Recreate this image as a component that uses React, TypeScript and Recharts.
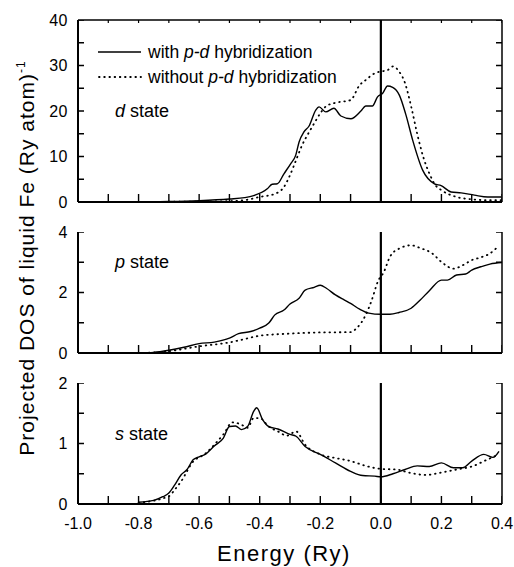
import React from 'react';
import { LineChart, Line, XAxis, YAxis, ReferenceLine } from 'recharts';

const FONT = '"Liberation Sans", Arial, Helvetica, sans-serif';

// ---- ticks ----
const energyTicks = [-1.0, -0.9, -0.8, -0.7, -0.6, -0.5, -0.4, -0.3, -0.2, -0.1, 0.0, 0.1, 0.2, 0.3, 0.4];
const energyLabels = [-1.0, -0.8, -0.6, -0.4, -0.2, 0.0, 0.2, 0.4];
const dTicks = [0, 5, 10, 15, 20, 25, 30, 35, 40];
const dLabels = [0, 10, 20, 30, 40];
const pTicks = [0, 1, 2, 3, 4];
const pLabels = [0, 2, 4];
const sTicks = [0, 0.5, 1, 1.5, 2];
const sLabels = [0, 1, 2];

// ---- d state ----
const dWithE = [-0.8, -0.7, -0.6, -0.5, -0.45, -0.42, -0.375, -0.359, -0.342, -0.32, -0.298, -0.281, -0.27, -0.254, -0.237, -0.215, -0.204, -0.182, -0.155, -0.132, -0.099, -0.066, -0.05, -0.028, -0.011, 0.006, 0.022, 0.039, 0.061, 0.083, 0.105, 0.138, 0.177, 0.199, 0.232, 0.265, 0.309, 0.353, 0.397];
const dWithV = [0, 0.1, 0.3, 0.66, 0.95, 1.4, 2.9, 3.9, 4.0, 6.2, 8.4, 10.3, 13.2, 15.4, 16.7, 20.2, 20.9, 19.8, 20.6, 18.9, 18.3, 20.0, 21.1, 21.1, 23.1, 23.9, 25.5, 25.2, 23.5, 19.1, 13.6, 7.0, 4.0, 3.6, 2.2, 2.0, 1.5, 1.1, 1.1];
const dWithoutE = [-0.7, -0.6, -0.5, -0.45, -0.4, -0.35, -0.32, -0.3, -0.28, -0.26, -0.24, -0.22, -0.2, -0.18, -0.15, -0.1, -0.07, -0.05, -0.02, 0.0, 0.02, 0.04, 0.06, 0.08, 0.1, 0.12, 0.14, 0.16, 0.18, 0.2, 0.25, 0.3, 0.35, 0.4];
const dWithoutV = [0.05, 0.1, 0.2, 0.4, 1.1, 1.8, 3.3, 5.9, 9.2, 12.5, 15, 17.3, 19.5, 21.1, 21.8, 22.4, 25.7, 26.8, 28.3, 28.7, 28.9, 29.8, 28.7, 26.1, 21, 15, 9.9, 6.3, 3.7, 2.6, 1.1, 0.6, 0.4, 0.4];

// ---- p state ----
const pWithE = [-0.8, -0.75, -0.7, -0.65, -0.6, -0.55, -0.5, -0.47, -0.43, -0.4, -0.37, -0.35, -0.32, -0.3, -0.27, -0.25, -0.22, -0.2, -0.18, -0.15, -0.12, -0.1, -0.07, -0.04, 0.0, 0.03, 0.06, 0.1, 0.13, 0.16, 0.2, 0.22, 0.25, 0.28, 0.3, 0.33, 0.36, 0.4];
const pWithV = [0, 0.02, 0.09, 0.19, 0.31, 0.36, 0.49, 0.64, 0.71, 0.82, 0.99, 1.26, 1.42, 1.62, 1.81, 2.08, 2.17, 2.24, 2.14, 1.92, 1.75, 1.64, 1.45, 1.32, 1.28, 1.28, 1.34, 1.48, 1.75, 2.06, 2.41, 2.41, 2.58, 2.61, 2.74, 2.85, 2.94, 2.99];
const pWithoutE = [-0.8, -0.7, -0.6, -0.5, -0.45, -0.4, -0.3, -0.2, -0.1, -0.08, -0.05, -0.03, -0.01, 0.01, 0.03, 0.06, 0.1, 0.13, 0.17, 0.2, 0.24, 0.27, 0.3, 0.33, 0.36, 0.39];
const pWithoutV = [0, 0.06, 0.22, 0.35, 0.46, 0.57, 0.64, 0.68, 0.69, 0.82, 1.26, 1.75, 2.36, 2.68, 3.18, 3.45, 3.56, 3.47, 3.29, 3.01, 2.79, 2.9, 3.07, 3.16, 3.29, 3.55];

// ---- s state ----
const sWithE = [-0.8, -0.75, -0.72, -0.7, -0.68, -0.66, -0.64, -0.62, -0.6, -0.58, -0.55, -0.52, -0.5, -0.48, -0.46, -0.44, -0.42, -0.41, -0.39, -0.37, -0.34, -0.3, -0.28, -0.25, -0.2, -0.15, -0.1, -0.06, -0.02, 0.0, 0.04, 0.08, 0.12, 0.16, 0.2, 0.24, 0.27, 0.3, 0.34, 0.37, 0.39];
const sWithV = [0.03, 0.06, 0.12, 0.18, 0.32, 0.48, 0.57, 0.73, 0.78, 0.82, 0.96, 1.09, 1.28, 1.29, 1.23, 1.28, 1.53, 1.59, 1.39, 1.28, 1.24, 1.15, 1.12, 0.95, 0.82, 0.68, 0.54, 0.47, 0.46, 0.45, 0.5, 0.57, 0.63, 0.62, 0.68, 0.6, 0.6, 0.71, 0.82, 0.77, 0.87];
const sWithoutE = [-0.8, -0.7, -0.68, -0.66, -0.62, -0.58, -0.55, -0.52, -0.49, -0.46, -0.44, -0.42, -0.4, -0.37, -0.34, -0.31, -0.28, -0.25, -0.2, -0.15, -0.1, -0.05, 0.0, 0.05, 0.1, 0.15, 0.2, 0.25, 0.3, 0.35, 0.39];
const sWithoutV = [0.02, 0.13, 0.24, 0.37, 0.7, 0.83, 0.98, 1.15, 1.35, 1.31, 1.26, 1.42, 1.42, 1.28, 1.2, 1.13, 1.2, 0.98, 0.82, 0.76, 0.71, 0.63, 0.58, 0.57, 0.51, 0.48, 0.52, 0.57, 0.62, 0.73, 0.82];

type Pt = { e: number; v: number | null };

const zip = (e: number[], v: number[]): Pt[] => {
  const n = Math.min(e.length, v.length);
  const out: Pt[] = [];
  for (let i = 0; i < n; i++) out.push({ e: e[i], v: v[i] });
  return out;
};

const isIn = (arr: number[], v: number) => arr.some((a) => Math.abs(a - v) < 1e-6);

const DOT_DASH = '0.6 4.6';
const X_MIN = -1;
const X_MAX = 0.4;
const CHART_W = 514;
const M_LEFT = 18;
const M_RIGHT = 12;
const Y_AXIS_W = 60;
const PLOT_W = CHART_W - M_LEFT - M_RIGHT - Y_AXIS_W;

const makeBottomLabel = (showLabels: boolean) => (props: any) => {
  const { x, y, payload } = props;
  const v = payload.value as number;
  if (!showLabels || !isIn(energyLabels, v)) return <g />;
  return (
    <text x={x} y={y} dy="0.71em" textAnchor="middle" fontSize={16} fontFamily={FONT} fill="#000">
      {v.toFixed(1)}
    </text>
  );
};

const makeLeftLabel = (labels: number[]) => (props: any) => {
  const { x, y, payload } = props;
  const v = payload.value as number;
  if (!isIn(labels, v)) return <g />;
  return (
    <text x={x} y={y} dy="0.355em" textAnchor="end" fontSize={16} fontFamily={FONT} fill="#000" letterSpacing={0.5}>
      {String(v)}
    </text>
  );
};

const EmptyTick = () => <g />;

type PanelProps = {
  top: number;
  height: number;
  marginTop: number;
  marginBottom: number;
  xAxisHeight: number;
  showXLabels: boolean;
  boxTop: boolean;
  yDomain: [number, number];
  yTicks: number[];
  yLabels: number[];
  withData: Pt[];
  withoutData: Pt[];
};

const TickLine = (data: Pt[], width: number, key: string) => (
  <Line
    key={key}
    data={data}
    dataKey="v"
    type="linear"
    stroke="#000"
    strokeWidth={width}
    dot={false}
    activeDot={false}
    connectNulls={false}
    legendType="none"
    isAnimationActive={false}
  />
);

const Panel = (p: PanelProps) => {
  const [y0, y1] = p.yDomain;
  const plotH = p.height - p.marginTop - p.marginBottom - p.xAxisHeight;
  // tick lengths converted from pixels to axis units
  const bottomLen = (8 / plotH) * (y1 - y0);
  const topLen = (3 / plotH) * (y1 - y0);
  const sideLen = (6 / PLOT_W) * (X_MAX - X_MIN);

  const bottomTicks: Pt[] = energyTicks.flatMap((t) => [
    { e: t, v: y0 },
    { e: t, v: y0 + bottomLen },
    { e: t, v: null },
  ]);
  const topTicks: Pt[] = energyTicks.flatMap((t) => [
    { e: t, v: y1 },
    { e: t, v: y1 - topLen },
    { e: t, v: null },
  ]);
  const leftTicks: Pt[] = p.yTicks.flatMap((t) => [
    { e: X_MIN, v: t },
    { e: X_MIN + sideLen, v: t },
    { e: X_MIN + sideLen, v: null },
  ]);
  const rightTicks: Pt[] = p.yTicks.flatMap((t) => [
    { e: X_MAX - sideLen, v: t },
    { e: X_MAX, v: t },
    { e: X_MAX, v: null },
  ]);

  return (
    <div style={{ position: 'absolute', left: 0, top: p.top }}>
      <LineChart
        width={CHART_W}
        height={p.height}
        margin={{ top: p.marginTop, right: M_RIGHT, bottom: p.marginBottom, left: M_LEFT }}
      >
        <XAxis
          dataKey="e"
          type="number"
          domain={[X_MIN, X_MAX]}
          ticks={energyTicks}
          allowDataOverflow
          height={p.xAxisHeight}
          tickSize={0}
          tickMargin={14}
          axisLine={false}
          tickLine={false}
          tick={makeBottomLabel(p.showXLabels)}
          interval={0}
        />
        {p.boxTop ? (
          <XAxis
            xAxisId="top"
            orientation="top"
            dataKey="e"
            type="number"
            domain={[X_MIN, X_MAX]}
            ticks={energyTicks}
            allowDataOverflow
            height={0}
            tickSize={0}
            tickMargin={0}
            axisLine={false}
            tickLine={false}
            tick={EmptyTick}
            interval={0}
          />
        ) : null}
        <YAxis
          type="number"
          domain={p.yDomain}
          ticks={p.yTicks}
          allowDataOverflow
          width={Y_AXIS_W}
          tickSize={0}
          tickMargin={10}
          axisLine={false}
          tickLine={false}
          tick={makeLeftLabel(p.yLabels)}
          interval={0}
        />
        <YAxis
          yAxisId="r"
          orientation="right"
          type="number"
          domain={p.yDomain}
          ticks={p.yTicks}
          allowDataOverflow
          width={0}
          tickSize={0}
          tickMargin={0}
          axisLine={false}
          tickLine={false}
          tick={EmptyTick}
          interval={0}
        />
        <ReferenceLine x={X_MIN} stroke="#000" strokeWidth={2} />
        <ReferenceLine x={X_MAX} stroke="#000" strokeWidth={1.5} />
        <ReferenceLine y={y0} stroke="#000" strokeWidth={2} />
        {p.boxTop ? <ReferenceLine y={y1} stroke="#000" strokeWidth={1.5} /> : null}
        <ReferenceLine x={0} stroke="#000" strokeWidth={2.2} />
        {TickLine(bottomTicks, 1.4, 'tb')}
        {p.boxTop ? TickLine(topTicks, 1.2, 'tt') : null}
        {TickLine(leftTicks, 1.3, 'tl')}
        {TickLine(rightTicks, 1.3, 'tr')}
        <Line
          data={p.withoutData}
          dataKey="v"
          type="monotone"
          stroke="#000"
          strokeWidth={1.8}
          strokeDasharray={DOT_DASH}
          strokeLinecap="round"
          dot={false}
          activeDot={false}
          isAnimationActive={false}
        />
        <Line
          data={p.withData}
          dataKey="v"
          type="monotone"
          stroke="#000"
          strokeWidth={1.4}
          dot={false}
          activeDot={false}
          isAnimationActive={false}
        />
      </LineChart>
    </div>
  );
};

const Overlay = () => (
  <svg width={514} height={567} style={{ position: 'absolute', left: 0, top: 0, pointerEvents: 'none' }} fontFamily={FONT}>
    {/* legend */}
    <line x1={98} x2={141} y1={52} y2={52} stroke="#000" strokeWidth={1.4} />
    <text x={148} y={58} fontSize={17.5} fill="#000">
      with <tspan fontStyle="italic">p-d</tspan> hybridization
    </text>
    <line x1={99} x2={141} y1={77} y2={77} stroke="#000" strokeWidth={1.8} strokeDasharray={DOT_DASH} strokeLinecap="round" />
    <text x={148} y={83} fontSize={17.5} fill="#000">
      without <tspan fontStyle="italic">p-d</tspan> hybridization
    </text>
    {/* state labels */}
    <text x={115} y={117} fontSize={18} fill="#000">
      <tspan fontStyle="italic">d</tspan> state
    </text>
    <text x={115} y={268} fontSize={18} fill="#000">
      <tspan fontStyle="italic">p</tspan> state
    </text>
    <text x={115} y={440} fontSize={18} fill="#000">
      <tspan fontStyle="italic">s</tspan> state
    </text>
    {/* axis titles */}
    <text x={284} y={561} fontSize={22} textAnchor="middle" letterSpacing={1.5} fill="#000">
      Energy (Ry)
    </text>
    <g transform="translate(33.5,258) rotate(-90)">
      <text x={0} y={0} fontSize={21} textAnchor="middle" letterSpacing={1} fill="#000">
        Projected DOS of liquid Fe (Ry atom)
        <tspan fontSize={12} dy={-9}>-1</tspan>
      </text>
    </g>
  </svg>
);

export default function App() {
  return (
    <div style={{ position: 'absolute', left: 0, top: 0, width: 514, height: 567, background: '#fff', fontFamily: FONT }}>
      <Panel
        top={0}
        height={210}
        marginTop={20}
        marginBottom={8}
        xAxisHeight={0}
        showXLabels={false}
        boxTop={true}
        yDomain={[0, 40]}
        yTicks={dTicks}
        yLabels={dLabels}
        withData={zip(dWithE, dWithV)}
        withoutData={zip(dWithoutE, dWithoutV)}
      />
      <Panel
        top={210}
        height={162}
        marginTop={22}
        marginBottom={19}
        xAxisHeight={0}
        showXLabels={false}
        boxTop={false}
        yDomain={[0, 4]}
        yTicks={pTicks}
        yLabels={pLabels}
        withData={zip(pWithE, pWithV)}
        withoutData={zip(pWithoutE, pWithoutV)}
      />
      <Panel
        top={360}
        height={207}
        marginTop={23}
        marginBottom={0}
        xAxisHeight={63}
        showXLabels={true}
        boxTop={false}
        yDomain={[0, 2]}
        yTicks={sTicks}
        yLabels={sLabels}
        withData={zip(sWithE, sWithV)}
        withoutData={zip(sWithoutE, sWithoutV)}
      />
      <Overlay />
    </div>
  );
}
